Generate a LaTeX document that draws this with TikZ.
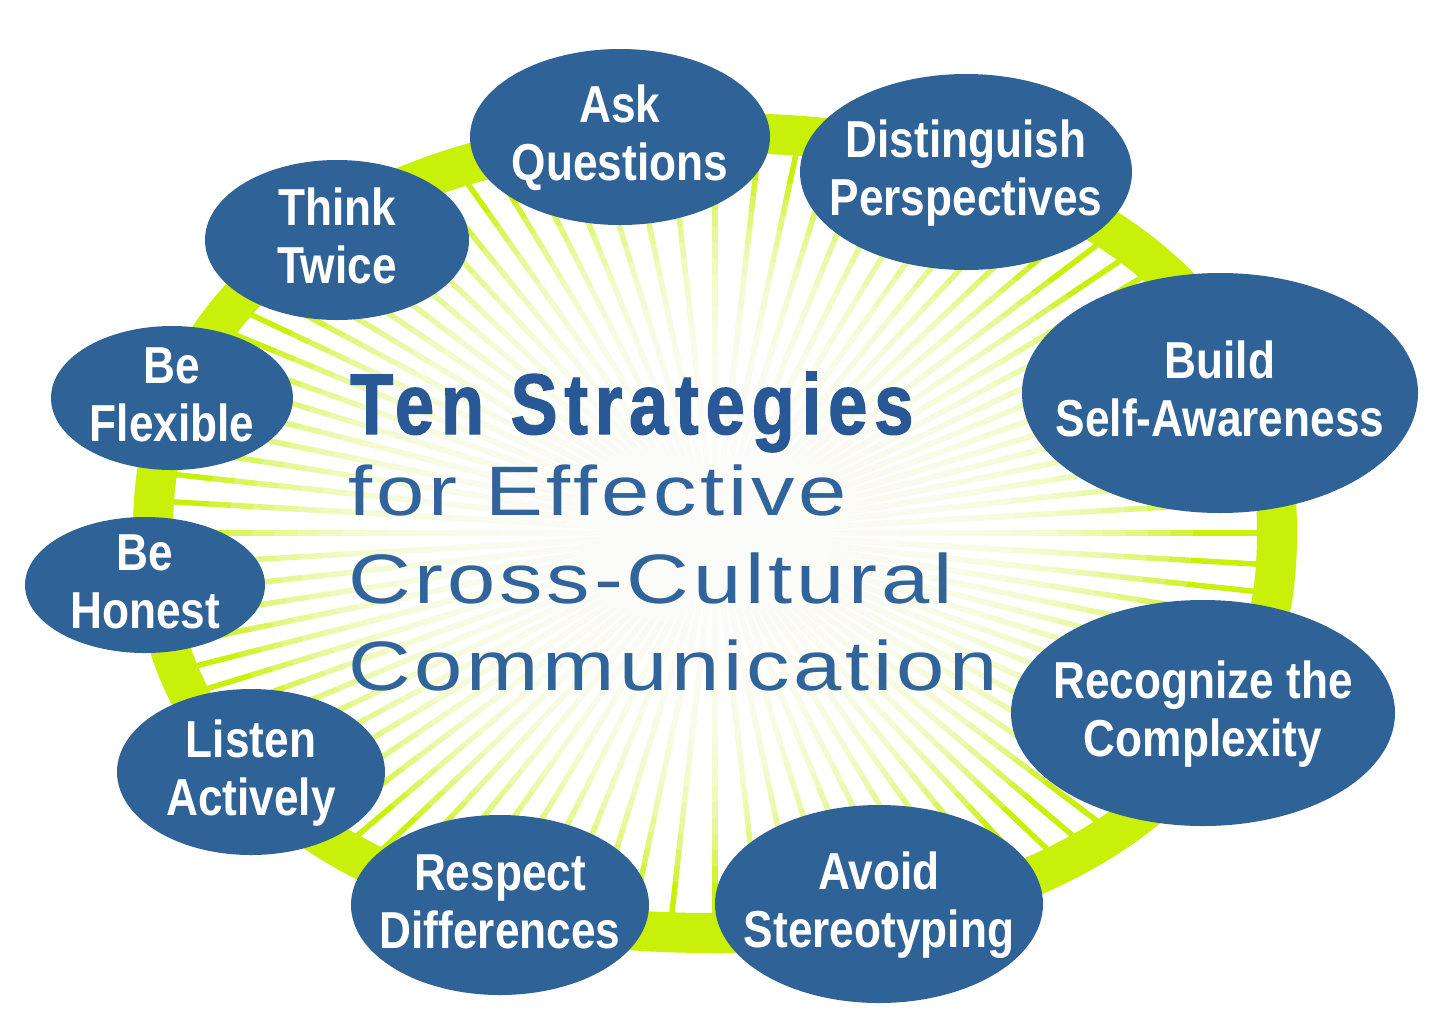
\documentclass[tikz,border=0pt]{standalone}
\usepackage{fontspec}
\usetikzlibrary{shapes.geometric}
\newfontfamily\labfont[FakeStretch=0.85]{Liberation Sans Bold}
\newfontfamily\ttlfont[FakeStretch=0.82,LetterSpace=8,FakeBold=1.4]{Liberation Sans Bold}
\newfontfamily\subfont[FakeStretch=1.24,LetterSpace=5.5]{Liberation Sans}
\definecolor{lime}{RGB}{200,240,8}
\definecolor{bubblue}{RGB}{47,98,150}
\definecolor{ttlblue}{RGB}{40,88,150}
\definecolor{subblue}{RGB}{50,100,156}
\newcommand\twolines[2]{\makebox[0pt]{\raisebox{15bp}[0pt][0pt]{#1}}\makebox[0pt]{\raisebox{-43bp}[0pt][0pt]{#2}}}
\tikzset{
  bub/.style={ellipse, fill=bubblue, inner sep=0pt, text=white,
    font=\labfont\fontsize{52bp}{58bp}\selectfont},
  ray/.style={draw=lime, line width=5.5bp},
  ringline/.style={draw=lime, line width=40bp},
  ttl/.style={anchor=base west, inner sep=0pt, text=ttlblue, font=\ttlfont\fontsize{86bp}{90bp}\selectfont},
  sub/.style={anchor=base west, inner sep=0pt, text=subblue, font=\subfont\fontsize{70bp}{80bp}\selectfont},
}
\def\px#1{(715+562*cos(#1)*pow(max(abs(cos(#1)),0.001),-0.0909))}
\def\py#1{(533+400*sin(#1)*pow(max(abs(sin(#1)),0.001),-0.0909))}
\begin{document}
\begin{tikzpicture}[x=1bp,y=-1bp]
\useasboundingbox (0,0) rectangle (1440,1034);
\fill[white] (0,0) rectangle (1440,1034);
\coordinate (ctr) at (715,533);
% rays
\foreach \a in {0,3.6,...,356.5}{
  \coordinate (e) at ({\px{\a}},{\py{\a}});
  \draw[ray] (ctr) -- (e);
}
% radial fade towards the centre
\foreach \r in {0.88,0.84,...,0.09}{
  \fill[white, fill opacity=0.2] (700,530) ellipse ({560*\r} and {400*\r});
}
% ring
\draw[ringline] plot[domain=0:360, samples=181, smooth cycle] ({\px{\x}},{\py{\x}});
% title
\node[ttl] (t1) at (350,434) {Ten Strategies};
\node[sub] (t2) at (348,515) {for Effective};
\node[sub] (t3) at (348,603) {Cross-Cultural};
\node[sub] (t4) at (348,690) {Communication};
% bubbles
\node[bub, minimum width=300bp, minimum height=176bp] (ask) at (620,137) {\twolines{Ask}{Questions}};
\node[bub, minimum width=332bp, minimum height=196bp] (dis) at (966,172) {\twolines{Distinguish}{Perspectives}};
\node[bub, minimum width=396bp, minimum height=240bp] (bld) at (1220,393) {\twolines{Build}{Self-Awareness}};
\node[bub, minimum width=384bp, minimum height=226bp] (rec) at (1203,713) {\twolines{Recognize the}{Complexity}};
\node[bub, minimum width=328bp, minimum height=198bp] (avo) at (879,904) {\twolines{Avoid}{Stereotyping}};
\node[bub, minimum width=298bp, minimum height=180bp] (res) at (500,905) {\twolines{Respect}{Differences}};
\node[bub, minimum width=268bp, minimum height=166bp] (lis) at (251,772) {\twolines{Listen}{Actively}};
\node[bub, minimum width=240bp, minimum height=136bp] (hon) at (145,585) {\twolines{Be}{Honest}};
\node[bub, minimum width=242bp, minimum height=144bp] (flx) at (172,398) {\twolines{Be}{Flexible}};
\node[bub, minimum width=264bp, minimum height=160bp] (thk) at (337,240) {\twolines{Think}{Twice}};
\end{tikzpicture}
\end{document}
